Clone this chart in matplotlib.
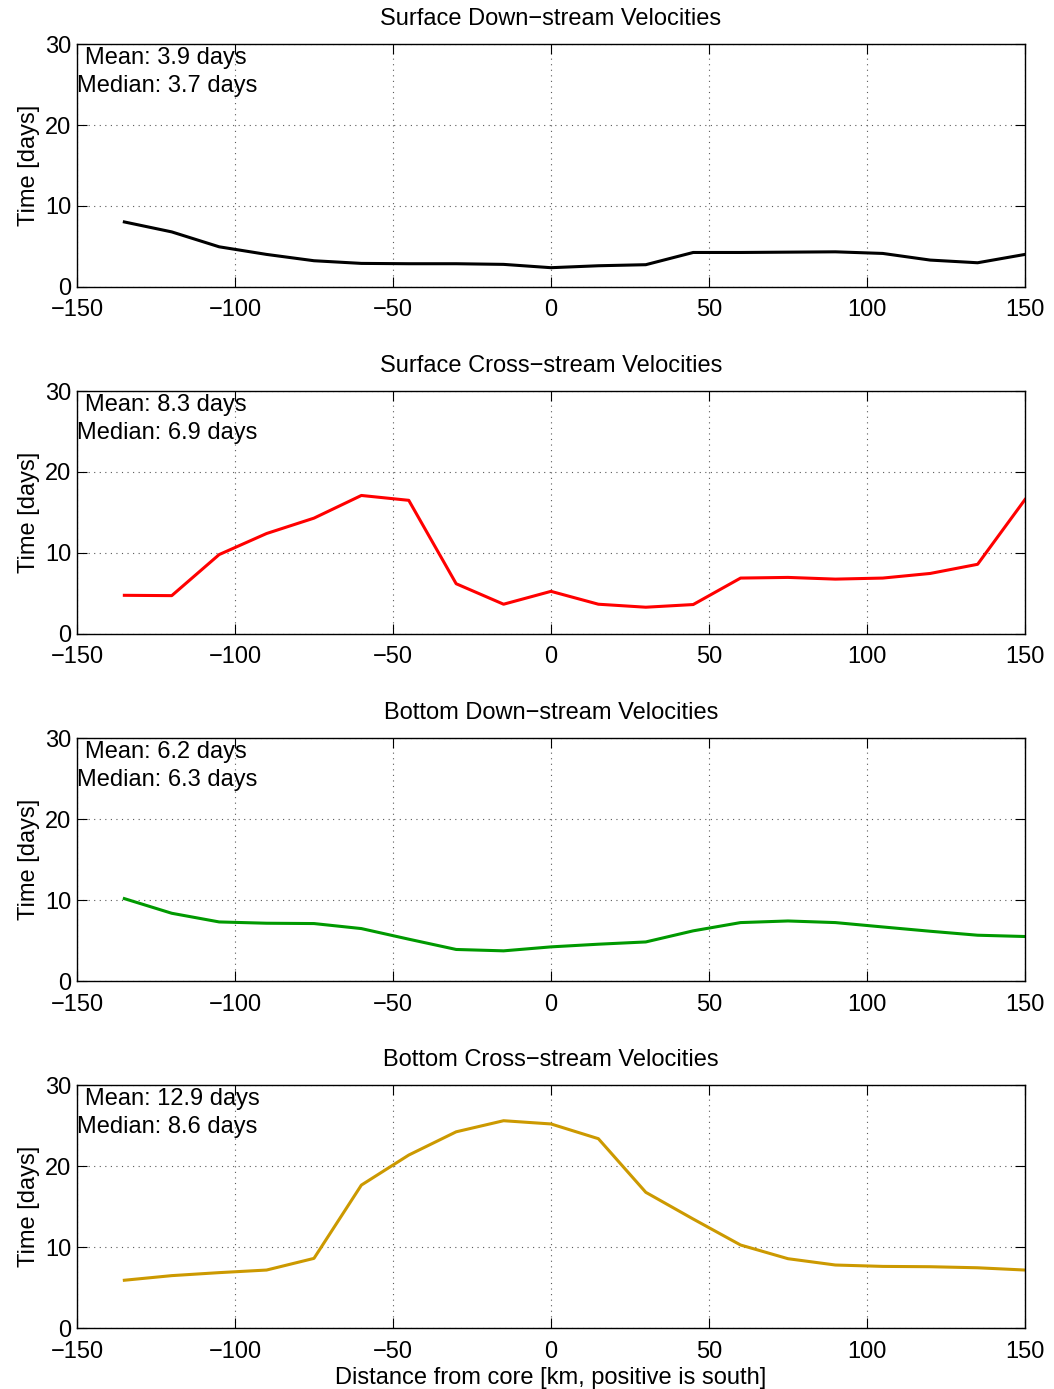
import numpy as np
import matplotlib
matplotlib.use("Agg")
import matplotlib.pyplot as plt

# =========================
# Data
# =========================
distance_km = [-135, -120, -105, -90, -75, -60, -45, -30, -15, 0,
               15, 30, 45, 60, 75, 90, 105, 120, 135, 150]

surface_down = [8.03, 6.8, 4.96, 4.02, 3.24, 2.91, 2.87, 2.87, 2.79, 2.38,
                2.62, 2.75, 4.26, 4.26, 4.3, 4.34, 4.14, 3.32, 2.99, 4.02]
surface_cross = [4.77, 4.73, 9.8, 12.4, 14.3, 17.1, 16.5, 6.2, 3.67, 5.26,
                 3.67, 3.3, 3.63, 6.9, 6.98, 6.77, 6.9, 7.47, 8.6, 16.6]
bottom_down = [10.18, 8.37, 7.3, 7.14, 7.1, 6.48, 5.17, 3.9, 3.73, 4.22,
               4.55, 4.83, 6.2, 7.22, 7.42, 7.22, 6.68, 6.15, 5.66, 5.5]
bottom_cross = [5.9, 6.47, 6.84, 7.16, 8.6, 17.65, 21.36, 24.23, 25.6, 25.2,
                23.38, 16.76, 13.46, 10.25, 8.56, 7.78, 7.61, 7.57, 7.44, 7.16]

titles = ["Surface Down\u2212stream Velocities",
          "Surface Cross\u2212stream Velocities",
          "Bottom Down\u2212stream Velocities",
          "Bottom Cross\u2212stream Velocities"]
means = ["3.9", "8.3", "6.2", "12.9"]
medians = ["3.7", "6.9", "6.3", "8.6"]
colors = ["#000000", "#ff0000", "#009900", "#cc9900"]

x_ticks = [-150, -100, -50, 0, 50, 100, 150]
y_ticks = [0, 10, 20, 30]

# =========================
# Style
# =========================
plt.rcParams.update({
    "font.family": ["Liberation Sans", "DejaVu Sans"],
    "font.size": 17,
    "axes.linewidth": 1.0,
    "xtick.direction": "in",
    "ytick.direction": "in",
    "xtick.top": True,
    "ytick.right": True,
    "xtick.major.size": 7,
    "ytick.major.size": 7,
    "xtick.major.pad": 9,
    "ytick.major.pad": 4,
})

fig = plt.figure(figsize=(10.54, 13.89), dpi=100)

series = [surface_down, surface_cross, bottom_down, bottom_cross]
bottoms = [0.7934, 0.5436, 0.2937, 0.0439]
left, width, height = 0.073, 0.8995, 0.1749

for i, (vals, b) in enumerate(zip(series, bottoms)):
    ax = fig.add_axes([left, b, width, height])
    ax.plot(distance_km, vals, color=colors[i], linewidth=2.2)
    ax.set_xlim(-150, 150)
    ax.set_ylim(0, 30)
    ax.set_xticks(x_ticks)
    ax.set_yticks(y_ticks)
    ax.grid(True, linestyle=(0, (1, 4)), color="0.35", linewidth=0.8)
    ax.set_axisbelow(True)
    ax.set_title(titles[i], fontsize=17, pad=14)
    ax.set_ylabel("Time [days]", fontsize=17, labelpad=4)
    ax.text(0.008, 0.942, f"Mean: {means[i]} days", transform=ax.transAxes,
            ha="left", va="center", fontsize=17)
    ax.text(0.0, 0.827, f"Median: {medians[i]} days", transform=ax.transAxes,
            ha="left", va="center", fontsize=17)
    if i == 3:
        ax.set_xlabel("Distance from core [km, positive is south]", fontsize=17, labelpad=3)

fig.savefig("out.png", dpi=100)
